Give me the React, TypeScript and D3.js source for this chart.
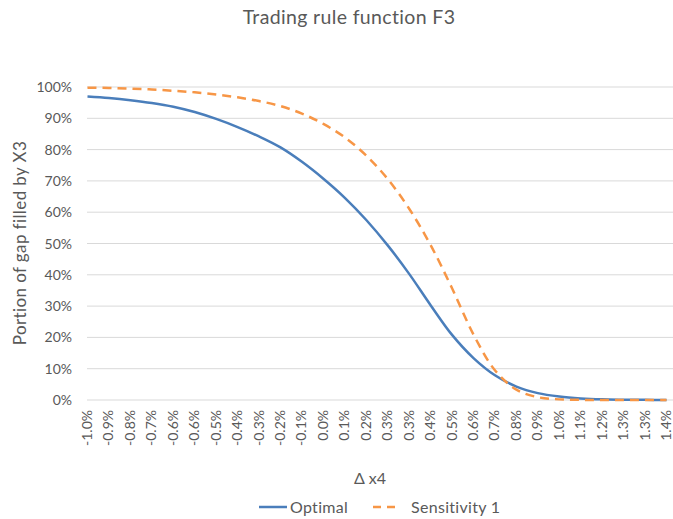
import React from "react";
import * as d3 from "d3";

const categories = [
  "-1.0%", "-0.9%", "-0.8%", "-0.7%", "-0.6%", "-0.6%", "-0.5%", "-0.4%", "-0.3%", "-0.2%",
  "-0.1%", "0.0%", "0.1%", "0.2%", "0.3%", "0.3%", "0.4%", "0.5%", "0.6%", "0.7%",
  "0.8%", "0.9%", "1.0%", "1.1%", "1.2%", "1.3%", "1.3%", "1.4%",
];

const optimal = [
  0.970, 0.965, 0.958, 0.949, 0.937, 0.920, 0.898, 0.872, 0.842, 0.807,
  0.761, 0.707, 0.646, 0.575, 0.494, 0.403, 0.303, 0.208, 0.134, 0.079,
  0.043, 0.022, 0.011, 0.005, 0.002, 0.001, 0.0005, 0.0002,
];

const sensitivity1 = [
  0.998, 0.997, 0.995, 0.992, 0.988, 0.983, 0.976, 0.967, 0.955, 0.939,
  0.915, 0.882, 0.839, 0.781, 0.706, 0.611, 0.495, 0.357, 0.209, 0.095,
  0.033, 0.009, 0.002, 0.0005, 0.0002, 0.0001, 0.0, 0.0,
];

const yTicks = [0, 0.1, 0.2, 0.3, 0.4, 0.5, 0.6, 0.7, 0.8, 0.9, 1.0];

const FONT = "Lato, 'Open Sans', sans-serif";

export default function App() {
  const W = 673;
  const H = 519;
  const left = 87.5;
  const right = 666.5;
  const top = 87;
  const bottom = 400;

  const x = d3.scalePoint<number>().domain(d3.range(categories.length)).range([left, right]);
  const y = d3.scaleLinear().domain([0, 1]).range([bottom, top]);

  const line = d3
    .line<number>()
    .x((_, i) => x(i) as number)
    .y((d) => y(Math.max(0, d)))
    .curve(d3.curveCatmullRom.alpha(0.5));

  const blue = "#4A7EBB";
  const orange = "#F79646";
  const textCol = "#595959";

  return (
    <svg width={W} height={H} style={{ position: "absolute", left: 0, top: 0, background: "#fff" }}>
      <rect x={0} y={0} width={W} height={H} fill="#fff" />
      <text x={349} y={24} textAnchor="middle" fontFamily={FONT} fontSize={19.5} letterSpacing={0.35} fill={textCol}>
        Trading rule function F3
      </text>
      {yTicks.map((t) => (
        <g key={t}>
          <line x1={87} x2={673} y1={y(t)} y2={y(t)} stroke="#D9D9D9" strokeWidth={1} />
          <text x={72} y={y(t) + 5} textAnchor="end" fontFamily={FONT} fontSize={14} fill={textCol}>
            {d3.format(".0%")(t)}
          </text>
        </g>
      ))}
      {categories.map((c, i) => (
        <text
          key={i}
          transform={`translate(${(x(i) as number) + 4.5},${410}) rotate(-90)`}
          textAnchor="end"
          fontFamily={FONT}
          fontSize={14}
          fill={textCol}
        >
          {c}
        </text>
      ))}
      <text
        transform={`translate(${26},${243}) rotate(-90)`}
        textAnchor="middle"
        fontFamily={FONT}
        fontSize={17}
        letterSpacing={0.4}
        fill={textCol}
      >
        Portion of gap filled by X3
      </text>
      <text x={370} y={484} textAnchor="middle" fontFamily={FONT} fontSize={16} fill={textCol}>
        Δ x4
      </text>
      <path d={line(optimal) || ""} fill="none" stroke={blue} strokeWidth={2.5} strokeLinejoin="round" />
      <path d={line(sensitivity1) || ""} fill="none" stroke={orange} strokeWidth={2.5} strokeDasharray="9,6" />
      <line x1={259} x2={287} y1={507} y2={507} stroke={blue} strokeWidth={2.5} />
      <text x={290} y={513} fontFamily={FONT} fontSize={16} letterSpacing={0.3} fill={textCol}>
        Optimal
      </text>
      <line x1={373} x2={401} y1={507} y2={507} stroke={orange} strokeWidth={2.5} strokeDasharray="8,6" />
      <text x={411} y={513} fontFamily={FONT} fontSize={16} letterSpacing={0.3} fill={textCol}>
        Sensitivity 1
      </text>
    </svg>
  );
}
